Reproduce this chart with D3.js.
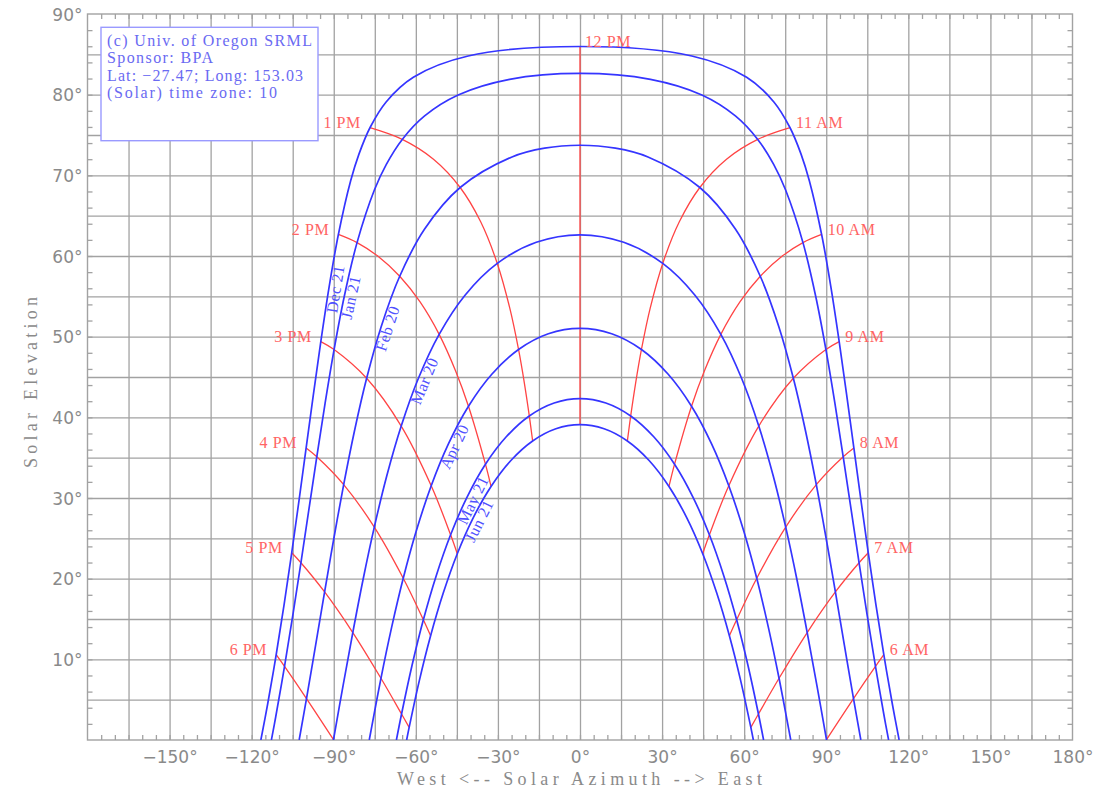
<!DOCTYPE html>
<html><head><meta charset="utf-8">
<script src="https://cdn.jsdelivr.net/npm/d3@7"></script>
<style>body{margin:0;background:#fff}svg{display:block}</style>
</head><body>
<svg id="c" width="1101" height="808"></svg>
<script>
// ---- data: [hour angle before noon (deg), azimuth (deg, East +), elevation (deg)] morning half; afternoon mirrors
const dateNames = ["Dec 21","Jan 21","Feb 20","Mar 20","Apr 20","May 21","Jun 21"];
const dateDecl = [-23.44,-20.1,-11.2,-0.1,11.5,20.2,23.44];
const dec21 = [[0,0,85.97],[3.75,40.87,84.79],[7.5,60.9,82.16],[11.25,70.86,79.10],[15,76.77,75.90],[18.75,80.79,72.63],[22.5,83.82,69.33],[30,88.31,62.67],[37.5,91.76,56.03],[45,94.73,49.39],[52.5,97.46,42.77],[60,100.09,36.20],[67.5,102.70,29.67],[75,105.36,23.21],[82.5,108.12,16.84],[90,111.04,10.57],[97.5,114.17,4.43],[103.03,116.64,0]];
const jan21 = [[0,0,82.63],[3.75,25.75,81.89],[7.5,44.54,79.95],[11.25,56.79,77.36],[15,64.96,74.45],[18.75,70.78,71.36],[22.5,75.15,68.18],[30,81.49,61.66],[37.5,86.12,55.04],[45,89.88,48.40],[52.5,93.17,41.74],[60,96.20,35.11],[67.5,99.11,28.52],[75,102.00,21.97],[82.5,104.94,15.50],[90,107.99,9.12],[97.5,111.22,2.85],[100.97,112.79,0]];
const feb20 = [[0,0,73.73],[3.75,12.94,73.37],[7.5,24.86,72.28],[15,43.80,68.49],[22.5,56.79,63.35],[30,65.89,57.49],[37.5,72.64,51.27],[45,77.98,44.84],[52.5,82.45,38.28],[60,86.37,31.66],[67.5,89.95,25.01],[75,93.34,18.35],[82.5,96.64,11.72],[90,99.96,5.14],[95.91,102.64,0]];
const mar20 = [[0,0,62.63],[7.5,15.98,61.70],[15,30.24,59.08],[22.5,42.02,55.14],[30,51.48,50.29],[37.5,59.09,44.81],[45,65.34,38.92],[52.5,70.61,32.75],[60,75.18,26.39],[67.5,79.28,19.90],[75,83.04,13.32],[82.5,86.61,6.70],[90,90.09,0.05],[90.05,90.11,0]];
const apr20 = [[0,0,51.03],[7.5,11.57,50.36],[15,22.46,48.41],[22.5,32.24,45.34],[30,40.76,41.38],[37.5,48.09,36.71],[45,54.38,31.52],[52.5,59.82,25.93],[60,64.60,20.05],[67.5,68.87,13.93],[75,72.75,7.65],[82.5,76.35,1.23],[83.93,77.02,0]];
const may21 = [[0,0,42.33],[7.5,9.45,41.78],[15,18.53,40.17],[22.5,26.95,37.59],[30,34.56,34.19],[37.5,41.32,30.09],[45,47.29,25.44],[52.5,52.57,20.34],[60,57.25,14.90],[67.5,61.44,9.17],[75,65.22,3.22],[78.97,67.10,0]];
const jun21 = [[0,0,39.09],[7.5,8.81,38.58],[15,17.31,37.07],[22.5,25.26,34.65],[30,32.52,31.43],[37.5,39.04,27.54],[45,44.85,23.09],[52.5,50.01,18.18],[60,54.60,12.92],[67.5,58.72,7.36],[75,62.44,1.56],[76.97,63.36,0]];
const dateCurves = [dec21, jan21, feb20, mar20, apr20, may21, jun21];
// extra points along the upper hour lines, between the dated curves: [hour angle, declination, azimuth, elevation]
const hourLineExtra = [[15,-16,53.55,71.99],[15,-6,36.30,64.24],[15,6,25.66,53.53],[15,16,20.29,44.16],
                       [30,-16,73.82,59.97],[30,-6,58.51,54.33],[30,6,45.42,45.72]];

const amLabels = ["12 PM","11 AM","10 AM","9 AM","8 AM","7 AM","6 AM"];
const pmLabels = ["12 PM","1 PM","2 PM","3 PM","4 PM","5 PM","6 PM"];
const hourAngles = [0,15,30,45,60,75,90];

const azTicks = [-150,-120,-90,-60,-30,0,30,60,90,120,150,180];
const elTicks = [10,20,30,40,50,60,70,80,90];
const infoLines = ["(c) Univ. of Oregon SRML","Sponsor: BPA","Lat: \u221227.47; Long: 153.03","(Solar) time zone: 10"];

// ---- layout
const svg = d3.select("#c");
const x = d3.scaleLinear().domain([-180,180]).range([87.5,1072.5]);
const y = d3.scaleLinear().domain([0,90]).range([740,14]);
const gridCol = "#a2a2a2", blue = "#3535ff", red = "#ff4444";
const serif = "'Liberation Serif','DejaVu Serif',serif";
const sans = "'DejaVu Sans',sans-serif";

const defs = svg.append("defs");
defs.append("clipPath").attr("id","plot").append("rect")
  .attr("x",x(-180)).attr("y",y(90)).attr("width",x(180)-x(-180)).attr("height",y(0)-y(90));

// grid lines via axes
const gridX = svg.append("g").attr("transform",`translate(0,${y(0)})`)
  .call(d3.axisBottom(x).tickValues(d3.range(-165,166,15)).tickSize(-(y(0)-y(90))).tickFormat(""));
const gridY = svg.append("g").attr("transform",`translate(${x(-180)},0)`)
  .call(d3.axisLeft(y).tickValues(d3.range(5,90,5)).tickSize(-(x(180)-x(-180))).tickFormat(""));
// minor ticks
const tb = svg.append("g").attr("transform",`translate(0,${y(0)})`)
  .call(d3.axisBottom(x).tickValues(d3.range(-175,180,5)).tickSize(-5).tickFormat(""));
const tt = svg.append("g").attr("transform",`translate(0,${y(90)})`)
  .call(d3.axisTop(x).tickValues(d3.range(-175,180,5)).tickSize(-5).tickFormat(""));
const tl = svg.append("g").attr("transform",`translate(${x(-180)},0)`)
  .call(d3.axisLeft(y).tickValues(d3.range(2,90,2)).tickSize(-5).tickFormat(""));
const tr = svg.append("g").attr("transform",`translate(${x(180)},0)`)
  .call(d3.axisRight(y).tickValues(d3.range(2,90,2)).tickSize(-5).tickFormat(""));
[gridX,gridY,tb,tt,tl,tr].forEach(g=>{
  g.select(".domain").remove();
  g.selectAll("line").attr("stroke",gridCol).attr("stroke-width",1.3);
});
svg.append("rect").attr("x",x(-180)).attr("y",y(90)).attr("width",x(180)-x(-180)).attr("height",y(0)-y(90))
  .attr("fill","none").attr("stroke",gridCol).attr("stroke-width",1.4);

// tick labels
const fmt = d => (d<0 ? "\u2212"+(-d) : ""+d) + "\u00b0";
const ax = svg.append("g").attr("transform",`translate(0,${y(0)})`)
  .call(d3.axisBottom(x).tickValues(azTicks).tickSize(0).tickPadding(0).tickFormat(fmt));
ax.select(".domain").remove();
ax.selectAll("text").attr("y",23).attr("dy",0).attr("font-family",sans).attr("font-size",17).attr("fill","#8a8a8a");
const ay = svg.append("g").attr("transform",`translate(${x(-180)},0)`)
  .call(d3.axisLeft(y).tickValues(elTicks).tickSize(0).tickPadding(0).tickFormat(fmt));
ay.select(".domain").remove();
ay.selectAll("text").attr("x",-5).attr("dy","0.36em").attr("font-family",sans).attr("font-size",17).attr("fill","#8a8a8a");

// axis titles
svg.append("text").attr("x",579.5).attr("y",785).attr("text-anchor","middle")
  .attr("font-family",serif).attr("font-size",18).attr("fill","#8a8a8a")
  .attr("textLength",365).attr("lengthAdjust","spacing").text("West <-- Solar Azimuth --> East");
svg.append("text").attr("transform","translate(37,382.5) rotate(-90)").attr("text-anchor","middle")
  .attr("font-family",serif).attr("font-size",18).attr("fill","#8a8a8a")
  .attr("textLength",171).attr("lengthAdjust","spacing").text("Solar Elevation");

// info box
svg.append("rect").attr("x",101).attr("y",27.3).attr("width",217).attr("height",113.4)
  .attr("fill","#fff").attr("stroke","#9a9aff").attr("stroke-width",1.4);
const infoW = [205,106,196,170];
svg.append("g").selectAll("text").data(infoLines).join("text")
  .attr("x",107).attr("y",(d,i)=>45.5+i*17.6)
  .attr("font-family",serif).attr("font-size",16).attr("fill","#6a6af2")
  .attr("textLength",(d,i)=>infoW[i]).attr("lengthAdjust","spacing").text(d=>d);

// full curve point lists
const fullCurve = c => c.slice(1).map(p=>[-p[1],p[2]]).reverse().concat(c.map(p=>[p[1],p[2]]));
const line = d3.line().x(d=>x(d[0])).y(d=>y(d[1])).curve(d3.curveCatmullRom.alpha(0.5));
const plot = svg.append("g").attr("clip-path","url(#plot)");

// hour lines (red)
const hourLines = [];
hourAngles.forEach((h,k)=>{
  const pts = [];
  dateCurves.forEach((c,i)=>{ const p=c.find(q=>q[0]===h); if(p) pts.push([dateDecl[i],p[1],p[2]]); });
  hourLineExtra.filter(e=>e[0]===h).forEach(e=>pts.push([e[1],e[2],e[3]]));
  pts.sort((a,b)=>a[0]-b[0]);
  const label0 = pts[0];
  hourLines.push({pts:pts.map(p=>[p[1],p[2]]), label:amLabels[k], side:"am", k});
  if (h>0) hourLines.push({pts:pts.map(p=>[-p[1],p[2]]), label:pmLabels[k], side:"pm", k});
});
plot.append("g").selectAll("path").data(hourLines).join("path")
  .attr("d",d=>line(d.pts)).attr("fill","none").attr("stroke",red).attr("stroke-width",1.3);

// date curves (blue)
plot.append("g").selectAll("path").data(dateCurves).join("path")
  .attr("d",d=>line(fullCurve(d))).attr("fill","none").attr("stroke",blue).attr("stroke-width",1.7);

// hour labels
svg.append("g").selectAll("text").data(hourLines).join("text")
  .attr("x",d=>{const p=d.pts[0]; return d.side==="am" ? x(p[0])+(d.k===0?5:6) : x(p[0])-9;})
  .attr("y",d=>y(d.pts[0][1])+0.5)
  .attr("text-anchor",d=>d.side==="am"?"start":"end")
  .attr("font-family",serif).attr("font-size",16).attr("letter-spacing",0.6)
  .attr("fill","#ff6464").text(d=>d.label);

// date labels (rotated along the afternoon 2:30 PM point)
svg.append("g").selectAll("text").data(dateCurves).join("text")
  .attr("transform",c=>{
    const a=c.find(p=>p[0]===30), m=c.find(p=>p[0]===37.5), b=c.find(p=>p[0]===45);
    const ang = Math.atan2(y(a[2])-y(b[2]), x(-a[1])-x(-b[1]))*180/Math.PI;
    return `translate(${x(-m[1])},${y(m[2])}) rotate(${ang})`;
  })
  .attr("dy",12).attr("text-anchor","middle")
  .attr("font-family",serif).attr("font-size",16).attr("letter-spacing",0.4)
  .attr("fill","#5050ff").text((c,i)=>dateNames[i]);
</script>
</body></html>
